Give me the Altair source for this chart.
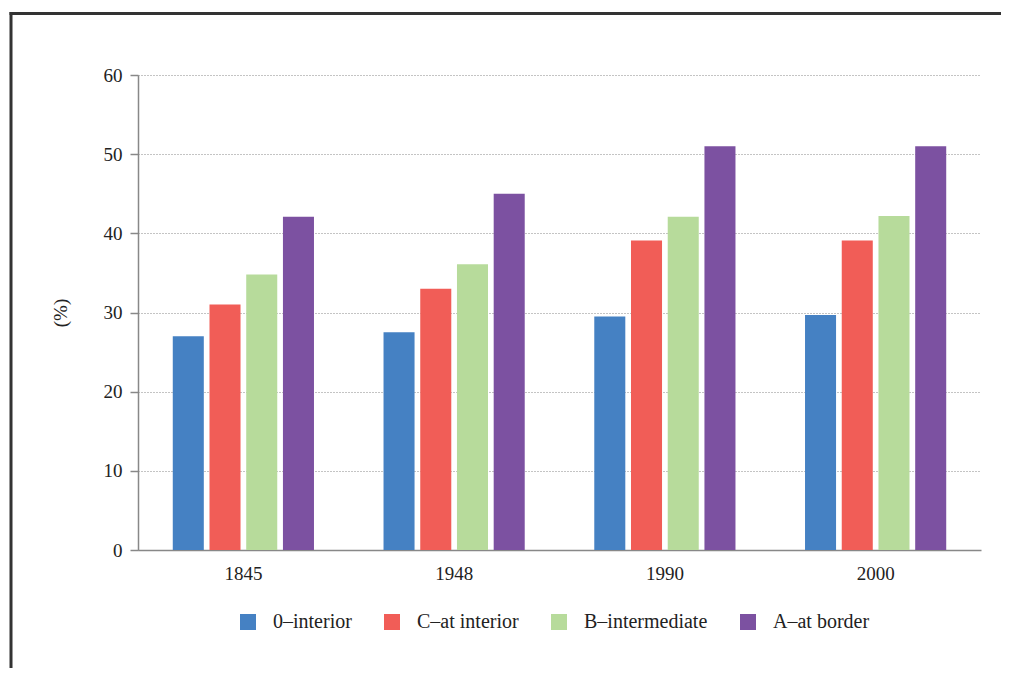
import altair as alt
import pandas as pd

years = ["1845", "1948", "1990", "2000"]
categories = ["0–interior", "C–at interior", "B–intermediate", "A–at border"]
colors = ["#4581C3", "#F15D57", "#B7DB9B", "#7C51A1"]
v_interior = [27.0, 27.5, 29.5, 29.7]
v_at_interior = [31.0, 33.0, 39.1, 39.1]
v_intermediate = [34.8, 36.1, 42.1, 42.2]
v_border = [42.1, 45.0, 51.0, 51.0]

series = [v_interior, v_at_interior, v_intermediate, v_border]
rows = []
for cat, vals in zip(categories, series):
    for y, v in zip(years, vals):
        rows.append({"year": y, "cat": cat, "value": v})
df = pd.DataFrame(rows)

FONT = "Liberation Serif"
W, H = 843, 475

bars = alt.Chart(df).mark_bar().encode(
    x=alt.X("year:N", sort=years,
            scale=alt.Scale(paddingInner=0.33, paddingOuter=0.165),
            axis=alt.Axis(title=None, labelAngle=0, ticks=False, labelPadding=14,
                          labelFontSize=19, labelFont=FONT, labelColor="#222",
                          domainColor="#888", domainWidth=1.5, grid=False)),
    xOffset=alt.XOffset("cat:N", sort=categories,
                        scale=alt.Scale(paddingInner=0.155, paddingOuter=0)),
    y=alt.Y("value:Q", scale=alt.Scale(domain=[0, 60], nice=False),
            axis=alt.Axis(values=[0, 10, 20, 30, 40, 50, 60], title="(%)",
                          titleFont=FONT, titleFontSize=19, titleFontWeight="normal",
                          titleColor="#222", titleX=-78, titleY=H / 2, titleAngle=-90,
                          titleBaseline="middle", titleAlign="center",
                          labelFontSize=19, labelFont=FONT, labelColor="#222",
                          labelPadding=8, tickSize=8, tickColor="#888", tickWidth=1.5,
                          domainColor="#888", domainWidth=1.5,
                          grid=True, gridColor="#888", gridDash=[1, 2], gridWidth=1)),
    color=alt.Color("cat:N", sort=categories,
                    scale=alt.Scale(domain=categories, range=colors),
                    legend=alt.Legend(title=None, orient="none", direction="horizontal",
                                      legendX=100, legendY=537, symbolType="square",
                                      symbolSize=256, symbolStrokeWidth=0,
                                      labelFont=FONT, labelFontSize=20, labelColor="#222",
                                      labelOffset=15, columnPadding=30)),
)

frame_src = pd.DataFrame({"k": [0]})
frame_top = alt.Chart(frame_src).mark_rule(stroke="#333", strokeWidth=3).encode(
    x=alt.value(-128.5), x2=alt.value(W + 20), y=alt.value(-61.5),
)
frame_left = alt.Chart(frame_src).mark_rule(stroke="#333", strokeWidth=3).encode(
    x=alt.value(-127), y=alt.value(-63), y2=alt.value(H + 118),
)

chart = alt.layer(frame_top, frame_left, bars).properties(
    width=W, height=H,
    autosize=alt.AutoSizeParams(type="none"),
    padding={"left": 130, "top": 67, "right": 20, "bottom": 118},
).configure_view(stroke=None)

chart.save("out.html", embed_options={"renderer": "svg", "actions": False})
